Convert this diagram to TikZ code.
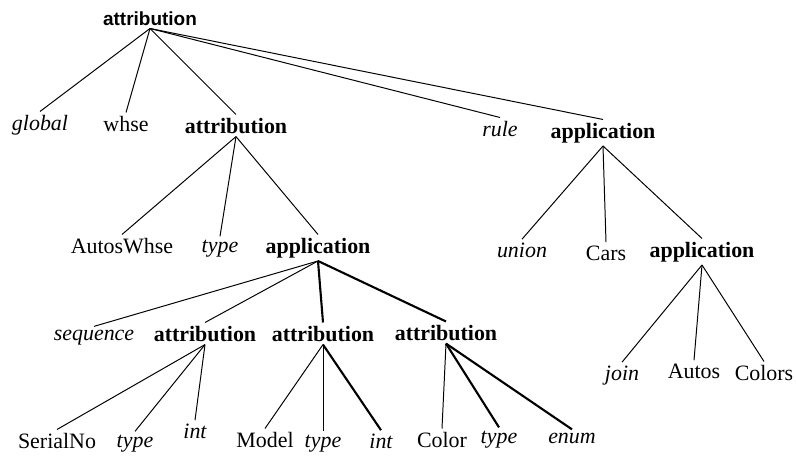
\documentclass[tikz,border=0pt]{standalone}
\usepackage{fontspec}
\setmainfont{Liberation Serif}
\setsansfont{Liberation Sans}
\begin{document}
\begin{tikzpicture}[
    line width=0.7pt,
    every node/.style={inner sep=2pt, anchor=base, font=\fontsize{15.6}{18}\selectfont},
    kw/.style={font=\fontsize{15.6}{18}\selectfont\bfseries},
    op/.style={font=\fontsize{15.6}{18}\selectfont\itshape},
    hot/.style={line width=1.5pt}
  ]
        \useasboundingbox (0,0) rectangle (19.9,-11.425);
        \node[font=\fontsize{13.5}{16}\selectfont\sffamily\bfseries] at (3.75,-0.625) (root) {attribution};
        \node[op] at ( 1.0, -3.25)  (global) {global};
        \node     at ( 3.15,-3.275) (whse) {whse};
        \node[kw] at ( 5.9, -3.325) (attr) {attribution};
        \node[op] at (12.5, -3.4)   (rule) {rule};
        \node[kw] at (15.075,-3.45) (appR) {application};
        \node     at ( 3.05,-6.325) (autosWhse) {AutosWhse};
        \node[op] at ( 5.5, -6.3)   (typeA) {type};
        \node[kw] at ( 7.95,-6.325) (appM) {application};
        \node[op] at (13.05,-6.425) (union) {union};
        \node     at (15.15,-6.5)   (cars) {Cars};
        \node[kw] at (17.55,-6.425) (appJ) {application};
        \node[op] at ( 2.35,-8.5)   (sequence) {sequence};
        \node[kw] at ( 5.125,-8.525) (attrS) {attribution};
        \node[kw] at ( 8.075,-8.525) (attrM) {attribution};
        \node[kw] at (11.15,-8.5)   (attrC) {attribution};
        \node[op] at (15.55,-9.5)   (join) {join};
        \node     at (17.35,-9.45)  (autos) {Autos};
        \node     at (19.1, -9.5)   (colors) {Colors};
        \node     at ( 1.425,-11.2) (serialNo) {SerialNo};
        \node[op] at ( 3.375,-11.175) (typeS) {type};
        \node[op] at ( 4.875,-10.95) (intS) {int};
        \node     at ( 6.625,-11.175) (model) {Model};
        \node[op] at ( 8.075,-11.175) (typeM) {type};
        \node[op] at ( 9.525,-11.2) (intM) {int};
        \node     at (11.05,-11.175) (color) {Color};
        \node[op] at (12.475,-11.075) (typeC) {type};
        \node[op] at (14.3, -11.075) (enum) {enum};
        \draw (root.south) -- (global.north);
        \draw (root.south) -- (whse.north);
        \draw (root.south) -- (attr.north);
        \draw (root.south) -- (rule.north);
        \draw (root.south) -- (appR.north);
        \draw (attr.south) -- (autosWhse.north);
        \draw (attr.south) -- (typeA.north);
        \draw (attr.south) -- (appM.north);
        \draw (appR.south) -- (union.north);
        \draw (appR.south) -- (cars.north);
        \draw (appR.south) -- (appJ.north);
        \draw (appM.south) -- (sequence.north);
        \draw (appM.south) -- (attrS.north);
        \draw[hot] (appM.south) -- (attrM.north);
        \draw[hot] (appM.south) -- (attrC.north);
        \draw (appJ.south) -- (join.north);
        \draw (appJ.south) -- (autos.north);
        \draw (appJ.south) -- (colors.north);
        \draw (attrS.south) -- (serialNo.north);
        \draw (attrS.south) -- (typeS.north);
        \draw (attrS.south) -- (intS.north);
        \draw (attrM.south) -- (model.north);
        \draw (attrM.south) -- (typeM.north);
        \draw[hot] (attrM.south) -- (intM.north);
        \draw (attrC.south) -- (color.north);
        \draw[hot] (attrC.south) -- (typeC.north);
        \draw[hot] (attrC.south) -- (enum.north);
      \end{tikzpicture}
\end{document}
